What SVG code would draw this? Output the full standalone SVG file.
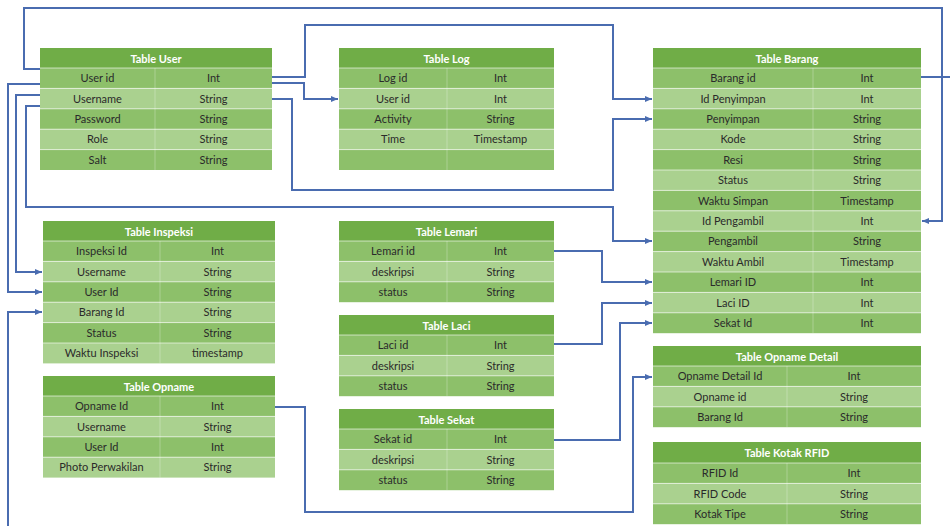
<svg xmlns="http://www.w3.org/2000/svg" width="950" height="526" viewBox="0 0 950 526">
<defs>
<style>
.h{fill:#70AD47}
.d{fill:#8DC06A}
.l{fill:#AAD18F}
.sep{stroke:#ffffff;stroke-width:1;stroke-opacity:0.6}
.div{stroke:#ffffff;stroke-width:0.8;stroke-opacity:0.35}
text{font-family:Lato,"Open Sans","Liberation Sans",sans-serif;font-size:11px;text-anchor:middle}
.ht{fill:#ffffff;font-weight:bold}
.t{fill:#2a2a2a}
.c{fill:none;stroke:#4A6CB0;stroke-width:2}
</style>
<marker id="a" markerWidth="8" markerHeight="7" refX="7" refY="3.5" orient="auto" markerUnits="userSpaceOnUse">
<path d="M0,0.5 L7,3.5 L0,6.5 Z" fill="#4A6CB0"/>
</marker>
</defs>
<rect width="950" height="526" fill="#ffffff"/>

<g id="connectors">
<path class="c" d="M40,69 H24 V8 H942 V221 H922" marker-end="url(#a)"/>
<path class="c" d="M40,84 H8 V292 H42" marker-end="url(#a)"/>
<path class="c" d="M40,95 H16 V272 H42" marker-end="url(#a)"/>
<path class="c" d="M40,106 H26 V207 H613 V241 H652" marker-end="url(#a)"/>
<path class="c" d="M272,77 H305 V25 H613 V99 H652" marker-end="url(#a)"/>
<path class="c" d="M272,83 H304 V99 H338" marker-end="url(#a)"/>
<path class="c" d="M272,99 H292 V190 H613 V119 H652" marker-end="url(#a)"/>
<path class="c" d="M554,251 H602 V282 H652" marker-end="url(#a)"/>
<path class="c" d="M554,344 H602 V303 H652" marker-end="url(#a)"/>
<path class="c" d="M554,440 H620 V323 H652" marker-end="url(#a)"/>
<path class="c" d="M275,407 H305 V512 H633 V377 H652" marker-end="url(#a)"/>
<path class="c" d="M8,526 V312 H42" marker-end="url(#a)"/>
<path class="c" d="M921,77 H950"/>
</g>

<g id="table-user" transform="translate(40,48)">
<rect class="h" x="0" y="0" width="232" height="20"/>
<text class="ht" x="116" y="14.5">Table User</text>
<rect class="d" y="20" width="232" height="20.4"/>
<rect class="l" y="40.4" width="232" height="20.4"/>
<rect class="d" y="60.8" width="232" height="20.4"/>
<rect class="l" y="81.2" width="232" height="20.4"/>
<rect class="d" y="101.6" width="232" height="20.4"/>
<path class="sep" d="M0,20 H232 M0,40.4 H232 M0,60.8 H232 M0,81.2 H232 M0,101.6 H232"/>
<path class="div" d="M115,20 V122"/>
<text class="t" x="57.5" y="34.2">User id</text><text class="t" x="173.5" y="34.2">Int</text>
<text class="t" x="57.5" y="54.6">Username</text><text class="t" x="173.5" y="54.6">String</text>
<text class="t" x="57.5" y="75">Password</text><text class="t" x="173.5" y="75">String</text>
<text class="t" x="57.5" y="95.4">Role</text><text class="t" x="173.5" y="95.4">String</text>
<text class="t" x="57.5" y="115.8">Salt</text><text class="t" x="173.5" y="115.8">String</text>
</g>

<g id="table-log" transform="translate(339,48)">
<rect class="h" x="0" y="0" width="215" height="20"/>
<text class="ht" x="107.5" y="14.5">Table Log</text>
<rect class="d" y="20" width="215" height="20.4"/>
<rect class="l" y="40.4" width="215" height="20.4"/>
<rect class="d" y="60.8" width="215" height="20.4"/>
<rect class="l" y="81.2" width="215" height="20.4"/>
<rect class="d" y="101.6" width="215" height="20.4"/>
<path class="sep" d="M0,20 H215 M0,40.4 H215 M0,60.8 H215 M0,81.2 H215 M0,101.6 H215"/>
<path class="div" d="M108,20 V122"/>
<text class="t" x="54" y="34.2">Log id</text><text class="t" x="161.5" y="34.2">Int</text>
<text class="t" x="54" y="54.6">User id</text><text class="t" x="161.5" y="54.6">Int</text>
<text class="t" x="54" y="75">Activity</text><text class="t" x="161.5" y="75">String</text>
<text class="t" x="54" y="95.4">Time</text><text class="t" x="161.5" y="95.4">Timestamp</text>
</g>

<g id="table-barang" transform="translate(653,48)">
<rect class="h" x="0" y="0" width="268" height="20"/>
<text class="ht" x="134" y="14.5">Table Barang</text>
<rect class="d" y="20" width="268" height="20.4"/>
<rect class="l" y="40.4" width="268" height="20.4"/>
<rect class="d" y="60.8" width="268" height="20.4"/>
<rect class="l" y="81.2" width="268" height="20.4"/>
<rect class="d" y="101.6" width="268" height="20.4"/>
<rect class="l" y="122" width="268" height="20.4"/>
<rect class="d" y="142.4" width="268" height="20.4"/>
<rect class="l" y="162.8" width="268" height="20.4"/>
<rect class="d" y="183.2" width="268" height="20.4"/>
<rect class="l" y="203.6" width="268" height="20.4"/>
<rect class="d" y="224" width="268" height="20.4"/>
<rect class="l" y="244.4" width="268" height="20.4"/>
<rect class="d" y="264.8" width="268" height="20.4"/>
<path class="sep" d="M0,20 H268 M0,40.4 H268 M0,60.8 H268 M0,81.2 H268 M0,101.6 H268 M0,122 H268 M0,142.4 H268 M0,162.8 H268 M0,183.2 H268 M0,203.6 H268 M0,224 H268 M0,244.4 H268 M0,264.8 H268"/>
<path class="div" d="M160,20 V285.2"/>
<text class="t" x="80" y="34.2">Barang id</text><text class="t" x="214" y="34.2">Int</text>
<text class="t" x="80" y="54.6">Id Penyimpan</text><text class="t" x="214" y="54.6">Int</text>
<text class="t" x="80" y="75">Penyimpan</text><text class="t" x="214" y="75">String</text>
<text class="t" x="80" y="95.4">Kode</text><text class="t" x="214" y="95.4">String</text>
<text class="t" x="80" y="115.8">Resi</text><text class="t" x="214" y="115.8">String</text>
<text class="t" x="80" y="136.2">Status</text><text class="t" x="214" y="136.2">String</text>
<text class="t" x="80" y="156.6">Waktu Simpan</text><text class="t" x="214" y="156.6">Timestamp</text>
<text class="t" x="80" y="177">Id Pengambil</text><text class="t" x="214" y="177">Int</text>
<text class="t" x="80" y="197.4">Pengambil</text><text class="t" x="214" y="197.4">String</text>
<text class="t" x="80" y="217.8">Waktu Ambil</text><text class="t" x="214" y="217.8">Timestamp</text>
<text class="t" x="80" y="238.2">Lemari ID</text><text class="t" x="214" y="238.2">Int</text>
<text class="t" x="80" y="258.6">Laci ID</text><text class="t" x="214" y="258.6">Int</text>
<text class="t" x="80" y="279">Sekat Id</text><text class="t" x="214" y="279">Int</text>
</g>

<g id="table-inspeksi" transform="translate(43,221)">
<rect class="h" x="0" y="0" width="232" height="20"/>
<text class="ht" x="116" y="14.5">Table Inspeksi</text>
<rect class="d" y="20" width="232" height="20.4"/>
<rect class="l" y="40.4" width="232" height="20.4"/>
<rect class="d" y="60.8" width="232" height="20.4"/>
<rect class="l" y="81.2" width="232" height="20.4"/>
<rect class="d" y="101.6" width="232" height="20.4"/>
<rect class="l" y="122" width="232" height="20.4"/>
<path class="sep" d="M0,20 H232 M0,40.4 H232 M0,60.8 H232 M0,81.2 H232 M0,101.6 H232 M0,122 H232"/>
<path class="div" d="M117,20 V142.4"/>
<text class="t" x="58.5" y="34.2">Inspeksi Id</text><text class="t" x="174.5" y="34.2">Int</text>
<text class="t" x="58.5" y="54.6">Username</text><text class="t" x="174.5" y="54.6">String</text>
<text class="t" x="58.5" y="75">User Id</text><text class="t" x="174.5" y="75">String</text>
<text class="t" x="58.5" y="95.4">Barang Id</text><text class="t" x="174.5" y="95.4">String</text>
<text class="t" x="58.5" y="115.8">Status</text><text class="t" x="174.5" y="115.8">String</text>
<text class="t" x="58.5" y="136.2">Waktu Inspeksi</text><text class="t" x="174.5" y="136.2">timestamp</text>
</g>

<g id="table-opname" transform="translate(43,376)">
<rect class="h" x="0" y="0" width="232" height="20"/>
<text class="ht" x="116" y="14.5">Table Opname</text>
<rect class="d" y="20" width="232" height="20.4"/>
<rect class="l" y="40.4" width="232" height="20.4"/>
<rect class="d" y="60.8" width="232" height="20.4"/>
<rect class="l" y="81.2" width="232" height="20.4"/>
<path class="sep" d="M0,20 H232 M0,40.4 H232 M0,60.8 H232 M0,81.2 H232"/>
<path class="div" d="M117,20 V101.6"/>
<text class="t" x="58.5" y="34.2">Opname Id</text><text class="t" x="174.5" y="34.2">Int</text>
<text class="t" x="58.5" y="54.6">Username</text><text class="t" x="174.5" y="54.6">String</text>
<text class="t" x="58.5" y="75">User Id</text><text class="t" x="174.5" y="75">Int</text>
<text class="t" x="58.5" y="95.4">Photo Perwakilan</text><text class="t" x="174.5" y="95.4">String</text>
</g>

<g id="table-lemari" transform="translate(339,221)">
<rect class="h" x="0" y="0" width="215" height="20"/>
<text class="ht" x="107.5" y="14.5">Table Lemari</text>
<rect class="d" y="20" width="215" height="20.4"/>
<rect class="l" y="40.4" width="215" height="20.4"/>
<rect class="d" y="60.8" width="215" height="20.4"/>
<path class="sep" d="M0,20 H215 M0,40.4 H215 M0,60.8 H215"/>
<path class="div" d="M108,20 V81.2"/>
<text class="t" x="54" y="34.2">Lemari id</text><text class="t" x="161.5" y="34.2">Int</text>
<text class="t" x="54" y="54.6">deskripsi</text><text class="t" x="161.5" y="54.6">String</text>
<text class="t" x="54" y="75">status</text><text class="t" x="161.5" y="75">String</text>
</g>

<g id="table-laci" transform="translate(339,315)">
<rect class="h" x="0" y="0" width="215" height="20"/>
<text class="ht" x="107.5" y="14.5">Table Laci</text>
<rect class="d" y="20" width="215" height="20.4"/>
<rect class="l" y="40.4" width="215" height="20.4"/>
<rect class="d" y="60.8" width="215" height="20.4"/>
<path class="sep" d="M0,20 H215 M0,40.4 H215 M0,60.8 H215"/>
<path class="div" d="M108,20 V81.2"/>
<text class="t" x="54" y="34.2">Laci id</text><text class="t" x="161.5" y="34.2">Int</text>
<text class="t" x="54" y="54.6">deskripsi</text><text class="t" x="161.5" y="54.6">String</text>
<text class="t" x="54" y="75">status</text><text class="t" x="161.5" y="75">String</text>
</g>

<g id="table-sekat" transform="translate(339,409)">
<rect class="h" x="0" y="0" width="215" height="20"/>
<text class="ht" x="107.5" y="14.5">Table Sekat</text>
<rect class="d" y="20" width="215" height="20.4"/>
<rect class="l" y="40.4" width="215" height="20.4"/>
<rect class="d" y="60.8" width="215" height="20.4"/>
<path class="sep" d="M0,20 H215 M0,40.4 H215 M0,60.8 H215"/>
<path class="div" d="M108,20 V81.2"/>
<text class="t" x="54" y="34.2">Sekat id</text><text class="t" x="161.5" y="34.2">Int</text>
<text class="t" x="54" y="54.6">deskripsi</text><text class="t" x="161.5" y="54.6">String</text>
<text class="t" x="54" y="75">status</text><text class="t" x="161.5" y="75">String</text>
</g>

<g id="table-opname-detail" transform="translate(653,346)">
<rect class="h" x="0" y="0" width="268" height="20"/>
<text class="ht" x="134" y="14.5">Table Opname Detail</text>
<rect class="d" y="20" width="268" height="20.4"/>
<rect class="l" y="40.4" width="268" height="20.4"/>
<rect class="d" y="60.8" width="268" height="20.4"/>
<path class="sep" d="M0,20 H268 M0,40.4 H268 M0,60.8 H268"/>
<path class="div" d="M134,20 V81.2"/>
<text class="t" x="67" y="34.2">Opname Detail Id</text><text class="t" x="201" y="34.2">Int</text>
<text class="t" x="67" y="54.6">Opname id</text><text class="t" x="201" y="54.6">String</text>
<text class="t" x="67" y="75">Barang Id</text><text class="t" x="201" y="75">String</text>
</g>

<g id="table-kotak-rfid" transform="translate(653,442)">
<rect class="h" x="0" y="0" width="268" height="21"/>
<text class="ht" x="134" y="15">Table Kotak RFID</text>
<rect class="d" y="21" width="268" height="20.4"/>
<rect class="l" y="41.4" width="268" height="20.4"/>
<rect class="d" y="61.8" width="268" height="20.4"/>
<path class="sep" d="M0,21 H268 M0,41.4 H268 M0,61.8 H268"/>
<path class="div" d="M134,21 V82.2"/>
<text class="t" x="67" y="35.2">RFID Id</text><text class="t" x="201" y="35.2">Int</text>
<text class="t" x="67" y="55.6">RFID Code</text><text class="t" x="201" y="55.6">String</text>
<text class="t" x="67" y="76">Kotak Tipe</text><text class="t" x="201" y="76">String</text>
</g>
</svg>
